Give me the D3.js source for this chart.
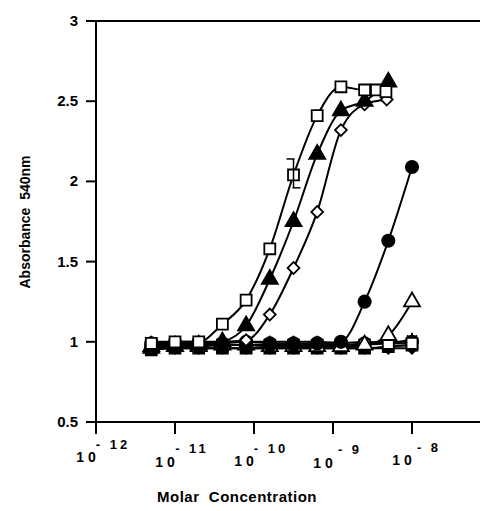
<!DOCTYPE html>
<html><head><meta charset="utf-8">
<script src="https://cdn.jsdelivr.net/npm/d3@7"></script>
<style>body{margin:0;background:#fff}text{font-family:"Liberation Sans",Arial,sans-serif;font-weight:bold;fill:#000;white-space:pre}</style>
</head><body><div id="container"></div>
<script>
// log10 molar concentrations of the dilution series
var baseX = [-11.3, -11.0, -10.7, -10.4, -10.1, -9.8, -9.5, -9.2, -8.9, -8.6, -8.3, -8.0];
var sqOpenX = [-11.3, -11.0, -10.7, -10.4, -10.1, -9.8, -9.5, -9.2, -8.9, -8.6, -8.45, -8.33];
var sqOpenY = [0.99, 1.0, 1.0, 1.11, 1.26, 1.58, 2.04, 2.41, 2.59, 2.57, 2.57, 2.56];
var triFillX = [-11.3, -11.0, -10.7, -10.4, -10.1, -9.8, -9.5, -9.2, -8.9, -8.6, -8.3];
var triFillY = [0.96, 0.97, 0.98, 1.0, 1.1, 1.39, 1.75, 2.17, 2.44, 2.5, 2.62];
var diamondX = [-11.3, -11.0, -10.7, -10.4, -10.1, -9.8, -9.5, -9.2, -8.9, -8.6, -8.32];
var diamondY = [0.97, 0.98, 0.99, 1.0, 1.01, 1.17, 1.46, 1.81, 2.32, 2.48, 2.51];
var circFillY = [0.97, 0.97, 0.98, 0.98, 0.98, 0.98, 0.98, 0.99, 1.0, 1.25, 1.63, 2.09];
var triOpenY = [0.97, 0.97, 0.97, 0.98, 0.98, 0.97, 0.97, 0.97, 0.97, 0.98, 1.04, 1.25];
var sqFillY = [0.95, 0.96, 0.96, 0.96, 0.96, 0.96, 0.96, 0.96, 0.96, 0.96, 0.97, 0.98];
var starY = [1.0, 1.0, 1.0, 1.0, 1.0, 1.0, 1.0, 1.0, 0.99, 1.0, 0.99, 1.02];
var circOpenY = [0.99, 0.99, 0.99, 0.99, 1.0, 0.99, 0.99, 0.99, 0.98, 0.99, 1.0, 1.0];
var sqOpenLowY = [0.98, 0.98, 0.98, 0.98, 0.98, 0.98, 0.98, 0.98, 0.97, 0.98, 0.99, 0.99];
var diaFillY = [0.96, 0.96, 0.96, 0.96, 0.96, 0.96, 0.96, 0.96, 0.96, 0.96, 0.96, 0.96];
var xTicks = [-12, -11, -10, -9, -8];
var yTicks = [0.5, 1, 1.5, 2, 2.5, 3];

var W = 480, H = 511;
var svg = d3.select("#container").append("svg").attr("width", W).attr("height", H);
var x = d3.scaleLinear().domain([-12, -8]).range([96, 412]);
var y = d3.scaleLinear().domain([0.5, 3]).range([422, 21]);

var series = [
  {xs: baseX, ys: sqFillY, sym: "square", fill: true},
  {xs: baseX, ys: diaFillY, sym: "diamond", fill: true, size: 60},
  {xs: baseX, ys: circOpenY, sym: "circle", fill: false},
  {xs: baseX, ys: starY, sym: "asterisk", fill: false},
  {xs: baseX, ys: sqOpenLowY, sym: "square", fill: false},
  {xs: baseX, ys: triOpenY, sym: "triangle", fill: false},
  {xs: baseX, ys: circFillY, sym: "circle", fill: true},
  {xs: diamondX, ys: diamondY, sym: "diamond", fill: false},
  {xs: triFillX, ys: triFillY, sym: "triangle", fill: true},
  {xs: sqOpenX, ys: sqOpenY, sym: "square", fill: false}
];
var symTypes = {square: d3.symbolSquare, diamond: d3.symbolSquare, circle: d3.symbolCircle,
  asterisk: d3.symbolAsterisk, triangle: d3.symbolTriangle};

var line = d3.line().curve(d3.curveMonotoneX).x(function(d){ return x(d[0]); }).y(function(d){ return y(d[1]); });

series.forEach(function(s){
  var pts = s.xs.map(function(v, i){ return [v, s.ys[i]]; });
  svg.append("path").attr("d", line(pts)).attr("fill", "none").attr("stroke", "#000").attr("stroke-width", 2);
});
series.forEach(function(s){
  var pts = s.xs.map(function(v, i){ return [v, s.ys[i]]; });
  var size = s.size || (s.sym === "diamond" ? 70 : s.sym === "triangle" ? 110 : s.sym === "asterisk" ? 100 : 120);
  var rot = s.sym === "diamond" ? " rotate(45)" : "";
  svg.selectAll(null).data(pts).enter().append("path")
    .attr("transform", function(d){ return "translate(" + x(d[0]) + "," + y(d[1]) + ")" + rot; })
    .attr("d", d3.symbol().type(symTypes[s.sym]).size(size))
    .attr("fill", s.fill ? "#000" : (s.sym === "asterisk" ? "none" : "#fff"))
    .attr("stroke", "#000").attr("stroke-width", 1.8);
});

// error bar on open square at 10^-9.5
var eb = svg.append("g").attr("stroke", "#000").attr("stroke-width", 1.5);
eb.append("line").attr("x1", x(-9.5)).attr("x2", x(-9.5)).attr("y1", y(2.14)).attr("y2", y(1.96));
eb.append("line").attr("x1", x(-9.5) - 7).attr("x2", x(-9.5) + 1).attr("y1", y(2.14)).attr("y2", y(2.14));
eb.append("line").attr("x1", x(-9.5) - 1).attr("x2", x(-9.5) + 7).attr("y1", y(1.96)).attr("y2", y(1.96));

// frame
var ax = svg.append("g").attr("stroke", "#000").attr("stroke-width", 2);
ax.append("line").attr("x1", 96).attr("x2", W).attr("y1", y(3)).attr("y2", y(3));
ax.append("line").attr("x1", 96).attr("x2", W).attr("y1", y(0.5)).attr("y2", y(0.5));
ax.append("line").attr("x1", 96).attr("x2", 96).attr("y1", y(3)).attr("y2", y(0.5) + 12);

yTicks.forEach(function(t){
  ax.append("line").attr("x1", 86).attr("x2", 96).attr("y1", y(t)).attr("y2", y(t));
  svg.append("text").attr("x", 78).attr("y", y(t) + 5).attr("text-anchor", "end").attr("font-size", 15).text(t);
});
var lblDy = [0, 8, 7, 10, 5];
xTicks.forEach(function(t, i){
  ax.append("line").attr("x1", x(t)).attr("x2", x(t)).attr("y1", y(0.5)).attr("y2", y(0.5) + 12);
  svg.append("text").attr("x", x(t) - 8).attr("y", 462 + lblDy[i] * 0.6).attr("text-anchor", "middle")
    .attr("font-size", 14).attr("letter-spacing", 4).text("10");
  svg.append("text").attr("x", x(t) + 17).attr("y", 449 + lblDy[i] * 0.5).attr("text-anchor", "middle")
    .attr("font-size", 13).attr("letter-spacing", 3).text("- " + (-t));
});

svg.append("text").attr("x", 237).attr("y", 502).attr("text-anchor", "middle").attr("font-size", 15)
  .attr("letter-spacing", 0.5).text("Molar  Concentration");
svg.append("text").attr("transform", "translate(30,222) rotate(-90)").attr("text-anchor", "middle")
  .attr("font-size", 14).text("Absorbance  540nm");
</script></body></html>
